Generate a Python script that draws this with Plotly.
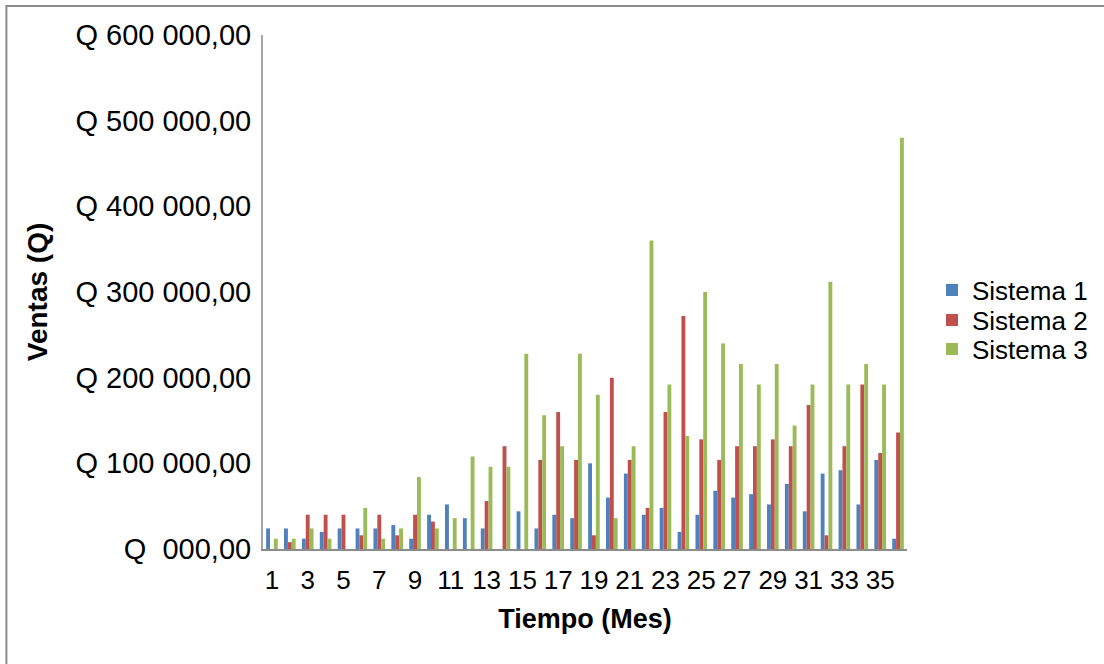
import plotly.graph_objects as go

months = ["1","2","3","4","5","6","7","8","9","10","11","12","13","14","15","16","17","18",
          "19","20","21","22","23","24","25","26","27","28","29","30","31","32","33","34","35","36"]

sistema1 = [24000, 24000, 12000, 20000, 24000, 24000, 24000, 28000, 12000, 40000, 52000, 36000,
            24000, 0, 44000, 24000, 40000, 36000, 100000, 60000, 88000, 40000, 48000, 20000,
            40000, 68000, 60000, 64000, 52000, 76000, 44000, 88000, 92000, 52000, 104000, 12000]
sistema2 = [0, 8000, 40000, 40000, 40000, 16000, 40000, 16000, 40000, 32000, 0, 0,
            56000, 120000, 0, 104000, 160000, 104000, 16000, 200000, 104000, 48000, 160000, 272000,
            128000, 104000, 120000, 120000, 128000, 120000, 168000, 16000, 120000, 192000, 112000, 136000]
sistema3 = [12000, 12000, 24000, 12000, 0, 48000, 12000, 24000, 84000, 24000, 36000, 108000,
            96000, 96000, 228000, 156000, 120000, 228000, 180000, 36000, 120000, 360000, 192000, 132000,
            300000, 240000, 216000, 192000, 216000, 144000, 192000, 312000, 192000, 216000, 192000, 480000]

x_ticks = ["1","3","5","7","9","11","13","15","17","19","21","23","25","27","29","31","33","35"]
y_vals = [0, 100000, 200000, 300000, 400000, 500000, 600000]
y_text = ["Q  000,00", "Q 100 000,00", "Q 200 000,00", "Q 300 000,00",
          "Q 400 000,00", "Q 500 000,00", "Q 600 000,00"]

FONT = "Liberation Sans, Arial, sans-serif"

L, R, T, B = 263, 1104 - 908, 35, 664 - 549
pw, ph = 1104 - L - R, 664 - T - B

def px_x(p):
    return (p - L) / pw

def px_y(p):
    return (664 - B - p) / ph

fig = go.Figure()
fig.add_trace(go.Bar(x=months, y=sistema1, name="Sistema 1", legend="legend",
                     marker=dict(color="#4F81BD", line=dict(width=0))))
fig.add_trace(go.Bar(x=months, y=sistema2, name="Sistema 2", legend="legend2",
                     marker=dict(color="#C0504D", line=dict(width=0))))
fig.add_trace(go.Bar(x=months, y=sistema3, name="Sistema 3", legend="legend3",
                     marker=dict(color="#9BBB59", line=dict(width=0))))

def leg(yc):
    return dict(x=px_x(932), y=px_y(yc), xanchor="left", yanchor="middle",
                font=dict(size=26, family=FONT, color="black"), itemwidth=30,
                bgcolor="rgba(0,0,0,0)", borderwidth=0)

fig.update_layout(
    width=1104, height=664,
    margin=dict(l=L, r=R, t=T, b=B, pad=0),
    paper_bgcolor="white", plot_bgcolor="white",
    barmode="group", bargap=0.35, bargroupgap=0,
    font=dict(family=FONT, size=26, color="black"),
    showlegend=True,
    legend=leg(290), legend2=leg(320), legend3=leg(349),
    xaxis=dict(type="category", tickmode="array", tickvals=x_ticks, ticktext=x_ticks,
               showline=True, linecolor="#8C8C8C", linewidth=2, ticks="", showgrid=False,
               zeroline=False, tickfont=dict(size=26), ticklabelstandoff=7,
               title=dict(text="<b>Tiempo (Mes)</b>", font=dict(size=27), standoff=15)),
    yaxis=dict(range=[0, 600000], tickmode="array", tickvals=y_vals, ticktext=y_text,
               showline=True, linecolor="#A6A6A6", linewidth=2, ticks="", showgrid=False,
               zeroline=False, tickfont=dict(size=29), ticklabelstandoff=4,
               title=dict(text="<b>Ventas (Q)</b>", font=dict(size=28), standoff=20)),
    shapes=[dict(type="rect", xref="paper", yref="paper",
                 x0=px_x(6), x1=px_x(1200), y0=px_y(760), y1=px_y(6),
                 line=dict(color="#8C8C8C", width=2), layer="below")],
)

fig.write_html("out.html")
